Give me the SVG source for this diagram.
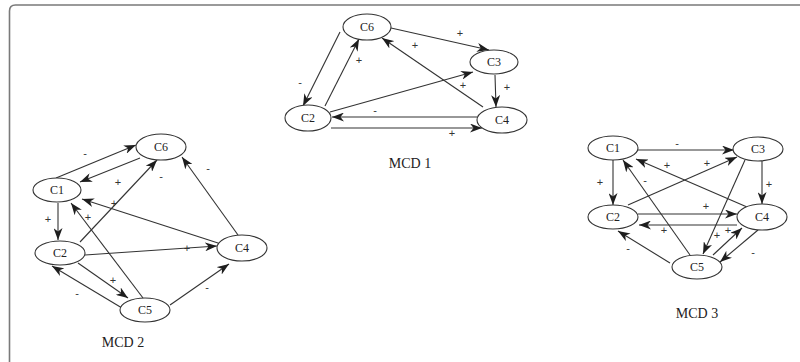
<svg xmlns="http://www.w3.org/2000/svg" width="800" height="362" viewBox="0 0 800 362">
  <style>
    .frame { fill: none; stroke: #7a7a7a; stroke-width: 1.6; }
    .node ellipse { fill: #fff; stroke: #333; stroke-width: 1.1; }
    .node text { font-family: "Liberation Serif", "DejaVu Serif", serif; font-size: 12px; fill: #222; text-anchor: middle; dominant-baseline: central; }
    .edges line { stroke: #333; stroke-width: 1.1; marker-end: url(#barb); }
    .signs { opacity: 0.99; }
    .sign { font-family: "Liberation Sans", Arial, sans-serif; font-size: 11px; fill: #333; text-anchor: middle; dominant-baseline: central; }
    .title { font-family: "Liberation Serif", "DejaVu Serif", serif; font-size: 14px; fill: #222; text-anchor: middle; }
  </style>
  <defs>
    <marker id="barb" viewBox="0 0 12 9" refX="12" refY="4.5" markerWidth="12" markerHeight="9" markerUnits="userSpaceOnUse" orient="auto">
      <path d="M0,0 L12,4.5 L0,9 L3.5,4.5 z" fill="#1e1e1e"/>
    </marker>
  </defs>

  <rect width="800" height="362" fill="#fff"/>
  <!-- page frame: top rule and left rule with rounded corner -->
  <path class="frame" d="M9.5,362 L9.5,11 Q9.5,5 15.5,5 L800,5"/>

  <!-- MCD 1 -->
  <g class="edges" id="edges-mcd1">
    <line x1="391" y1="28" x2="489" y2="50"/>
    <line x1="340" y1="32" x2="303" y2="106"/>
    <line x1="325" y1="106" x2="359" y2="39"/>
    <line x1="483" y1="107" x2="382" y2="38"/>
    <line x1="330" y1="112" x2="473" y2="72"/>
    <line x1="495" y1="75" x2="496" y2="107"/>
    <line x1="477" y1="117" x2="332" y2="117"/>
    <line x1="331" y1="128" x2="482" y2="128"/>
  </g>
  <g class="signs" id="signs-mcd1">
    <text class="sign" x="460" y="33">+</text>
    <text class="sign" x="300" y="82">-</text>
    <text class="sign" x="359" y="60">+</text>
    <text class="sign" x="415" y="45">+</text>
    <text class="sign" x="463" y="85">+</text>
    <text class="sign" x="507" y="87">+</text>
    <text class="sign" x="375" y="110">-</text>
    <text class="sign" x="452" y="133">+</text>
  </g>
  <g class="node" id="mcd1-c6"><ellipse cx="367" cy="27" rx="24" ry="13"/><text x="367" y="27">C6</text></g>
  <g class="node" id="mcd1-c3"><ellipse cx="494" cy="62" rx="24" ry="12"/><text x="494" y="62">C3</text></g>
  <g class="node" id="mcd1-c2"><ellipse cx="308" cy="118" rx="23" ry="13"/><text x="308" y="118">C2</text></g>
  <g class="node" id="mcd1-c4"><ellipse cx="502" cy="120" rx="25" ry="13"/><text x="502" y="120">C4</text></g>
  <text class="title" x="410" y="168">MCD 1</text>

  <!-- MCD 2 -->
  <g class="edges" id="edges-mcd2">
    <line x1="56" y1="178" x2="136" y2="145"/>
    <line x1="140" y1="158" x2="80" y2="182"/>
    <line x1="80" y1="242" x2="157" y2="160"/>
    <line x1="238" y1="235" x2="182" y2="157"/>
    <line x1="218" y1="243" x2="82" y2="199"/>
    <line x1="143" y1="298" x2="71" y2="203"/>
    <line x1="58" y1="203" x2="58" y2="240"/>
    <line x1="85" y1="255" x2="217" y2="246"/>
    <line x1="78" y1="263" x2="128" y2="298"/>
    <line x1="122" y1="308" x2="52" y2="266"/>
    <line x1="170" y1="305" x2="229" y2="264"/>
  </g>
  <g class="signs" id="signs-mcd2">
    <text class="sign" x="85" y="153">-</text>
    <text class="sign" x="118" y="182">+</text>
    <text class="sign" x="161" y="176">-</text>
    <text class="sign" x="114" y="203">+</text>
    <text class="sign" x="208" y="168">-</text>
    <text class="sign" x="88" y="217">+</text>
    <text class="sign" x="48" y="219">+</text>
    <text class="sign" x="187" y="248">+</text>
    <text class="sign" x="113" y="280">+</text>
    <text class="sign" x="77" y="293">-</text>
    <text class="sign" x="207" y="287">-</text>
  </g>
  <g class="node" id="mcd2-c6"><ellipse cx="161" cy="147" rx="25" ry="13"/><text x="161" y="147">C6</text></g>
  <g class="node" id="mcd2-c1"><ellipse cx="57" cy="190" rx="24" ry="12"/><text x="57" y="190">C1</text></g>
  <g class="node" id="mcd2-c2"><ellipse cx="60" cy="253" rx="25" ry="12"/><text x="60" y="253">C2</text></g>
  <g class="node" id="mcd2-c4"><ellipse cx="242" cy="248" rx="25" ry="13"/><text x="242" y="248">C4</text></g>
  <g class="node" id="mcd2-c5"><ellipse cx="145" cy="310" rx="25" ry="12"/><text x="145" y="310">C5</text></g>
  <text class="title" x="123" y="347">MCD 2</text>

  <!-- MCD 3 -->
  <g class="edges" id="edges-mcd3">
    <line x1="638" y1="150" x2="734" y2="150"/>
    <line x1="613" y1="160" x2="613" y2="205"/>
    <line x1="762" y1="161" x2="762" y2="204"/>
    <line x1="628" y1="205" x2="737" y2="157"/>
    <line x1="747" y1="207" x2="636" y2="159"/>
    <line x1="690" y1="255" x2="623" y2="160"/>
    <line x1="745" y1="160" x2="703" y2="254"/>
    <line x1="638" y1="214" x2="737" y2="214"/>
    <line x1="737" y1="225" x2="639" y2="225"/>
    <line x1="713" y1="255" x2="742" y2="228"/>
    <line x1="758" y1="230" x2="720" y2="262"/>
    <line x1="670" y1="263" x2="618" y2="231"/>
  </g>
  <g class="signs" id="signs-mcd3">
    <text class="sign" x="677" y="143">-</text>
    <text class="sign" x="600" y="182">+</text>
    <text class="sign" x="769" y="184">+</text>
    <text class="sign" x="707" y="163">+</text>
    <text class="sign" x="667" y="165">+</text>
    <text class="sign" x="645" y="180">-</text>
    <text class="sign" x="706" y="206">+</text>
    <text class="sign" x="664" y="230">+</text>
    <text class="sign" x="717" y="235">+</text>
    <text class="sign" x="728" y="230">+</text>
    <text class="sign" x="753" y="252">-</text>
    <text class="sign" x="628" y="248">-</text>
  </g>
  <g class="node" id="mcd3-c1"><ellipse cx="613" cy="148" rx="25" ry="12"/><text x="613" y="148">C1</text></g>
  <g class="node" id="mcd3-c3"><ellipse cx="758" cy="149" rx="25" ry="12"/><text x="758" y="149">C3</text></g>
  <g class="node" id="mcd3-c2"><ellipse cx="613" cy="217" rx="25" ry="12"/><text x="613" y="217">C2</text></g>
  <g class="node" id="mcd3-c4"><ellipse cx="762" cy="217" rx="25" ry="13"/><text x="762" y="217">C4</text></g>
  <g class="node" id="mcd3-c5"><ellipse cx="697" cy="267" rx="25" ry="12"/><text x="697" y="267">C5</text></g>
  <text class="title" x="697" y="318">MCD 3</text>
</svg>
